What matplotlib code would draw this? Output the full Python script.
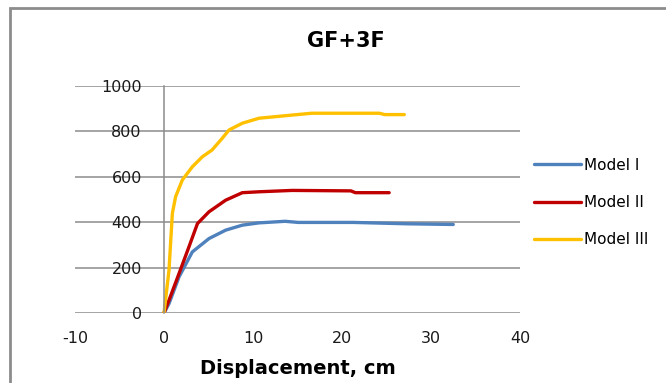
import matplotlib.pyplot as plt
from matplotlib.patches import Rectangle

# Model I (blue)
x_m1 = [0, 0.56, 1.69, 3.18, 5.06, 6.93, 8.8, 10.67, 13.6, 15.1, 21.3, 27.3, 32.5]
y_m1 = [0, 41, 159, 269, 328, 365, 387, 397, 404, 399, 399, 393, 390]

# Model II (red)
x_m2 = [0, 0.56, 1.69, 2.8, 3.76, 5.06, 6.93, 8.8, 10.67, 14.4, 21.0, 21.5, 25.3]
y_m2 = [0, 56, 174, 291, 394, 446, 497, 530, 534, 540, 538, 530, 530]

# Model III (yellow)
x_m3 = [0, 0.56, 0.94, 1.3, 2.06, 3.18, 4.3, 5.4, 6.55, 7.3, 8.8, 10.67, 14.4, 16.6, 24.2, 24.8, 27.0]
y_m3 = [0, 188, 439, 512, 586, 644, 688, 718, 770, 806, 836, 858, 872, 880, 880, 874, 874]

x_ticks = [-10, 0, 10, 20, 30, 40]
y_ticks = [0, 200, 400, 600, 800, 1000]

plt.rcParams['font.family'] = ['DejaVu Sans']
plt.rcParams['axes.unicode_minus'] = False

fig = plt.figure(figsize=(6.66, 3.83), dpi=100)
W, H = 666, 383
ax = fig.add_axes([75 / W, 1 - 313 / H, (520 - 75) / W, (313 - 86) / H])

ax.plot(x_m1, y_m1, color='#4F81BD', lw=2.4, label='Model I', solid_capstyle='round')
ax.plot(x_m2, y_m2, color='#C00000', lw=2.4, label='Model II', solid_capstyle='round')
ax.plot(x_m3, y_m3, color='#FFC000', lw=2.4, label='Model III', solid_capstyle='round')

ax.set_xlim(-10, 40)
ax.set_ylim(0, 1000)
ax.set_xticks(x_ticks)
ax.set_yticks(y_ticks)
ax.yaxis.grid(True, color='#8c8c8c', lw=1.1)
ax.set_axisbelow(True)

for s in ['top', 'right', 'bottom']:
    ax.spines[s].set_visible(False)
ax.spines['left'].set_position(('data', 0))
ax.spines['left'].set_color('#8c8c8c')
ax.spines['left'].set_linewidth(1.1)

ax.tick_params(axis='both', length=0, labelsize=11.5, colors='#1a1a1a')
ax.tick_params(axis='y', pad=16)
ax.tick_params(axis='x', pad=13)

ax.set_xlabel('Displacement, cm', fontsize=14, fontweight='bold', labelpad=9)
fig.text(346 / W, 1 - 41 / H, 'GF+3F', ha='center', va='center', fontsize=15, fontweight='bold')

ax.legend(loc='center left', bbox_to_anchor=(1.0, 0.487), frameon=False, fontsize=11,
          handlelength=3.1, handletextpad=0.2, labelspacing=1.45)

# chart frame
fig.patches.append(Rectangle((10.5 / W, -0.1), 1.2, 1 - 7.5 / H + 0.1, transform=fig.transFigure,
                             fill=False, edgecolor='#8c8c8c', lw=2))

fig.savefig('out.png', dpi=100)
